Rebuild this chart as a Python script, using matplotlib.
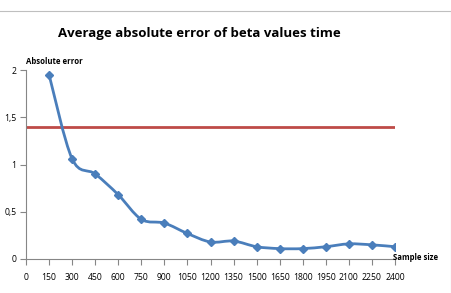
import matplotlib
matplotlib.use("Agg")
import matplotlib.pyplot as plt
from matplotlib.path import Path
from matplotlib.patches import PathPatch
from matplotlib.lines import Line2D
import numpy as np

sample_size = [150, 300, 450, 600, 750, 900, 1050, 1200, 1350, 1500, 1650, 1800, 1950, 2100, 2250, 2400]
abs_error = [1.95, 1.06, 0.90, 0.68, 0.42, 0.38, 0.27, 0.18, 0.19, 0.13, 0.11, 0.11, 0.13, 0.16, 0.15, 0.13]
threshold = 1.4
x_ticks = list(range(0, 2401, 150))
y_ticks = [0, 0.5, 1, 1.5, 2]
y_labels = ["0", "0,5", "1", "1,5", "2"]

W, H = 452, 293
fig = plt.figure(figsize=(W / 100, H / 100), dpi=100)
plt.rcParams['font.family'] = ['Open Sans', 'DejaVu Sans']

# axes placement in pixels
x0, x1 = 26, 395
y0, y1 = 259, 70
ax = fig.add_axes([x0 / W, 1 - y0 / H, (x1 - x0) / W, (y0 - y1) / H])
ax.set_xlim(0, 2400)
ax.set_ylim(0, 2)

blue = '#4a7ebb'
# smooth line (Catmull-Rom rendered as cubic Bezier path)
pts = np.column_stack([sample_size, abs_error]).astype(float)
verts = [tuple(pts[0])]
codes = [Path.MOVETO]
n = len(pts)
for i in range(n - 1):
    p0 = pts[i - 1] if i > 0 else pts[i]
    p1 = pts[i]
    p2 = pts[i + 1]
    p3 = pts[i + 2] if i + 2 < n else pts[i + 1]
    c1 = p1 + (p2 - p0) / 6
    c2 = p2 - (p3 - p1) / 6
    verts += [tuple(c1), tuple(c2), tuple(p2)]
    codes += [Path.CURVE4] * 3
ax.add_patch(PathPatch(Path(verts, codes), facecolor='none', edgecolor=blue, lw=2.0, zorder=3))
ax.plot(sample_size, abs_error, linestyle='none', marker='D', ms=4.5, color=blue, zorder=4)

ax.plot([0, 2400], [threshold, threshold], color='#be4b48', lw=2.0, zorder=2)

for s in ['top', 'right']:
    ax.spines[s].set_visible(False)
for s in ['left', 'bottom']:
    ax.spines[s].set_color('#868686')
    ax.spines[s].set_linewidth(0.8)

ax.set_xticks(x_ticks)
ax.set_xticklabels([str(v) for v in x_ticks], fontsize=6.2)
ax.set_yticks(y_ticks)
ax.set_yticklabels(y_labels, fontsize=6.2)
ax.tick_params(axis='x', direction='out', length=4, color='#868686', pad=6)
ax.tick_params(axis='y', direction='out', length=4, color='#868686', pad=3)

fig.text(199 / W, 1 - 34 / H, "Average absolute error of beta values time",
         ha='center', va='center', fontsize=9.5, fontweight='bold')
fig.text(26 / W, 1 - 61 / H, "Absolute error", ha='left', va='center',
         fontsize=5.6, fontweight='bold')
fig.text(393 / W, 1 - 258 / H, "Sample size", ha='left', va='center',
         fontsize=5.6, fontweight='bold')

# chart area border (top and right)
fig.add_artist(Line2D([0, 451 / W], [1 - 11 / H, 1 - 11 / H], color='#bfbfbf', lw=0.8))
fig.add_artist(Line2D([451 / W, 451 / W], [1 - 11 / H, 0], color='#bfbfbf', lw=0.8))

fig.savefig("out.png", dpi=100)
